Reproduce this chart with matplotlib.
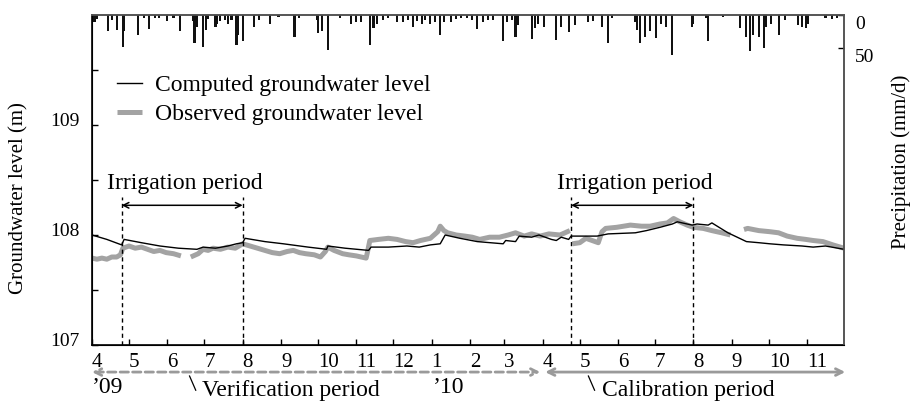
import matplotlib
matplotlib.use('Agg')
import matplotlib.pyplot as plt
import matplotlib.transforms as mtransforms
import matplotlib.dates as mdates
import numpy as np
import pandas as pd

plt.rcParams['font.family'] = ['Liberation Serif', 'DejaVu Serif']

start = pd.Timestamp('2009-04-01')

# computed groundwater level (days since 2009-04-01, m)
comp_days = [0, 12, 24, 26, 40, 55, 70, 85, 90, 100, 110, 117, 122, 124, 140, 155,
             175, 190, 191, 205, 224, 226, 240, 255, 265, 274, 282, 286, 298, 312,
             333, 335, 343, 346, 356, 362, 372, 376, 380, 386, 388, 409, 418, 440,
             449, 460, 470, 474, 486, 490, 499, 502, 515, 530, 540, 549, 560, 575,
             584, 594, 609]
comp_level = [108.00, 107.96, 107.91, 107.96, 107.93, 107.90, 107.88, 107.87, 107.89,
              107.88, 107.90, 107.92, 107.93, 107.97, 107.94, 107.92, 107.89, 107.87,
              107.90, 107.88, 107.86, 107.89, 107.89, 107.90, 107.89, 107.91, 107.92,
              108.00, 107.97, 107.94, 107.92, 107.95, 107.94, 107.99, 107.98, 108.00,
              107.96, 107.95, 107.98, 107.96, 107.99, 107.99, 108.01, 108.02, 108.04,
              108.07, 108.10, 108.12, 108.09, 108.10, 108.09, 108.11, 108.02, 107.94,
              107.93, 107.92, 107.91, 107.90, 107.89, 107.90, 107.87]

# observed groundwater level (nan = missing)
obs_days = [0, 4, 8, 12, 16, 20, 23, 25, 30, 35, 40, 45, 50, 55, 60, 66, 72, 75, 80, 86,
            90, 94, 98, 104, 110, 116, 122, 128, 134, 140, 146, 152, 158, 163, 168, 173,
            180, 185, 189, 191, 196, 203, 208, 214, 222, 223, 225, 232, 240, 247, 254,
            260, 266, 274, 280, 282, 285, 288, 295, 302, 308, 314, 322, 330, 337, 343,
            350, 356, 363, 370, 379, 385, 387, 388, 389, 395, 400, 405, 410, 413, 416,
            425, 436, 445, 452, 460, 466, 471, 476, 482, 487, 495, 502, 510, 517, 520,
            528, 531, 540, 549, 556, 563, 571, 578, 584, 592, 600, 609]
obs_level = [107.79, 107.78, 107.79, 107.78, 107.80, 107.80, 107.82, 107.88, 107.90,
             107.88, 107.89, 107.87, 107.85, 107.86, 107.84, 107.83, 107.81, np.nan,
             107.80, 107.83, 107.87, 107.86, 107.88, 107.87, 107.89, 107.88, 107.92,
             107.90, 107.88, 107.86, 107.84, 107.83, 107.85, 107.86, 107.84, 107.83,
             107.82, 107.80, 107.85, 107.89, 107.86, 107.83, 107.82, 107.81, 107.79,
             107.84, 107.95, 107.96, 107.97, 107.96, 107.94, 107.93, 107.95, 107.97,
             108.03, 108.08, 108.04, 108.02, 108.00, 107.99, 107.98, 107.96, 107.98,
             107.98, 108.00, 108.02, 107.99, 108.01, 107.99, 108.01, 108.00, 108.03,
             108.04, np.nan, 107.92, 107.93, 107.97, 107.95, 107.93, 108.03, 108.06,
             108.07, 108.09, 108.08, 108.08, 108.10, 108.11, 108.15, 108.12, 108.09,
             108.07, 108.06, 108.04, 108.02, 108.00, np.nan, 108.05, 108.06, 108.04,
             108.03, 108.02, 107.99, 107.97, 107.96, 107.95, 107.94, 107.91, 107.88]

# daily precipitation (mm/d)
rain_days = [2, 4, 13, 16, 20, 25, 26, 37, 42, 46, 51, 54, 61, 66, 71, 82, 83, 85, 90,
             92, 94, 100, 101, 104, 108, 110, 113, 117, 118, 122, 131, 135, 144, 151,
             164, 168, 182, 183, 186, 191, 201, 210, 214, 218, 225, 228, 231, 236, 240,
             247, 252, 256, 260, 263, 267, 270, 274, 278, 282, 285, 291, 295, 299, 304,
             308, 312, 317, 321, 325, 333, 336, 340, 343, 345, 356, 359, 361, 366, 376,
             380, 386, 391, 402, 406, 413, 418, 421, 440, 441, 444, 448, 452, 457, 461,
             465, 470, 486, 487, 497, 499, 511, 525, 530, 533, 535, 540, 544, 546, 550,
             556, 561, 572, 575, 578, 580, 594, 599, 603]
rain_mm = [10, 6, 25, 8, 23, 48, 25, 31, 5, 21, 5, 5, 9, 4, 24, 9, 43, 18, 48, 23, 6,
           18, 13, 9, 8, 13, 8, 45, 30, 39, 18, 8, 13, 3, 33, 4, 8, 28, 25, 53, 4, 13,
           10, 10, 45, 20, 14, 8, 4, 10, 10, 8, 18, 9, 14, 8, 13, 10, 31, 10, 10, 6, 5,
           5, 8, 21, 10, 8, 8, 39, 10, 8, 33, 15, 37, 20, 13, 18, 38, 18, 26, 15, 10, 9,
           18, 43, 5, 10, 23, 43, 33, 25, 35, 13, 18, 61, 18, 13, 5, 40, 3, 20, 33, 55,
           30, 33, 50, 18, 13, 30, 8, 15, 18, 20, 13, 5, 6, 5]

month_labels = ['4', '5', '6', '7', '8', '9', '10', '11', '12', '1', '2', '3',
                '4', '5', '6', '7', '8', '9', '10', '11']
irrig_start = ['2009-04-25', '2010-04-24']
irrig_end = ['2009-08-01', '2010-08-01']


def to_dates(days):
    return start + pd.to_timedelta(np.asarray(days, dtype=float), unit='D')


def dn(s):
    return mdates.date2num(pd.Timestamp(s))


fig = plt.figure(figsize=(9.1, 4.04), dpi=100)
ax = fig.add_axes([92 / 910, 59 / 404, 752 / 910, 330 / 404])

obs_line, = ax.plot(to_dates(obs_days), obs_level, color='#a3a3a3', lw=3.6,
                    solid_capstyle='butt', label='Observed groundwater level', zorder=2)
comp_line, = ax.plot(to_dates(comp_days), comp_level, color='black', lw=1.0,
                     label='Computed groundwater level', zorder=3)

ax.set_xlim(start, pd.Timestamp('2010-12-01'))
ax.set_ylim(107, 110)
ax.set_yticks([107, 108, 109])
ax.set_yticks([107.5, 108.5, 109.5], minor=True)
ax.set_xticks(pd.date_range('2009-04-01', '2010-11-01', freq='MS'))
ax.set_xticklabels(month_labels)
for lbl in ax.get_xticklabels():
    lbl.set_ha('left')
ax.tick_params(axis='x', direction='in', length=4.5, width=1, labelsize=15, pad=6)
ax.tick_params(axis='y', which='both', direction='in', length=4.5, width=1,
               labelsize=14, pad=9)
ax.tick_params(axis='y', which='minor', labelleft=False)
off = mtransforms.ScaledTranslation(0, 4 / 72, fig.dpi_scale_trans)
for lbl in ax.get_yticklabels():
    lbl.set_transform(lbl.get_transform() + off)

for side in ['left', 'bottom']:
    ax.spines[side].set_linewidth(1.2)
for side in ['top', 'right']:
    ax.spines[side].set_color('#555555')
    ax.spines[side].set_linewidth(1.2)

# irrigation periods
for s, e in zip(irrig_start, irrig_end):
    s, e = pd.Timestamp(s), pd.Timestamp(e)
    for d in (s, e):
        ax.plot([d, d], [107, 108.35], color='black', lw=1, ls=(0, (3, 2.5)), zorder=4)
    ax.annotate('', xy=(e, 108.27), xytext=(s, 108.27),
                arrowprops=dict(arrowstyle='<->', color='black', lw=1.1,
                                shrinkA=0, shrinkB=0, mutation_scale=10))
    ax.text(s + (e - s) / 2 + pd.Timedelta(days=2), 108.47, 'Irrigation period',
            ha='center', va='center', fontsize=17)

ax.legend(handles=[comp_line, obs_line], frameon=False,
          loc='upper left', bbox_to_anchor=(0.033, 0.82), borderpad=0,
          borderaxespad=0, handlelength=1.05, handletextpad=0.55,
          labelspacing=0.32, fontsize=17)

# precipitation (inverted right axis)
ax2 = ax.twinx()
ax2.bar(to_dates(rain_days), rain_mm, width=1.7, color='#111111', linewidth=0,
        align='center')
ax2.set_ylim(500, 0)
ax2.set_yticks([0, 50])
ax2.tick_params(axis='y', direction='in', length=4.5, width=1, labelsize=14, pad=8)
off2 = mtransforms.ScaledTranslation(0, -5.5 / 72, fig.dpi_scale_trans)
for lbl in ax2.get_yticklabels():
    lbl.set_transform(lbl.get_transform() + off2)
ax2.set_xlim(start, pd.Timestamp('2010-12-01'))
for side in ['top', 'right']:
    ax2.spines[side].set_color('#555555')
    ax2.spines[side].set_linewidth(1.2)

# period arrows below the axis
tr = mtransforms.blended_transform_factory(ax.transData, ax.transAxes)
ax.annotate('', xy=(dn('2010-03-30'), -0.082), xytext=(dn('2009-04-01'), -0.082),
            xycoords=tr, textcoords=tr, annotation_clip=False,
            arrowprops=dict(arrowstyle='<->', color='#9a9a9a', lw=2, ls=(0, (3, 1.5)),
                            shrinkA=0, shrinkB=0, mutation_scale=12))
ax.annotate('', xy=(dn('2010-12-02'), -0.082), xytext=(dn('2010-04-03'), -0.082),
            xycoords=tr, textcoords=tr, annotation_clip=False,
            arrowprops=dict(arrowstyle='<->', color='#9a9a9a', lw=2,
                            shrinkA=0, shrinkB=0, mutation_scale=12))
ax.text(dn('2009-04-01'), -0.13, '\u201909', transform=tr, ha='left', va='center',
        fontsize=17)
ax.text(dn('2010-01-02'), -0.13, '\u201910', transform=tr, ha='left', va='center',
        fontsize=17)
ax.plot([dn('2009-06-19'), dn('2009-06-24')], [-0.094, -0.137],
        transform=tr, color='black', lw=0.9, clip_on=False)
ax.text(dn('2009-06-29'), -0.17, 'Verification period', transform=tr,
        ha='left', va='bottom', fontsize=17)
ax.plot([dn('2010-05-08'), dn('2010-05-13')], [-0.094, -0.137],
        transform=tr, color='black', lw=0.9, clip_on=False)
ax.text(dn('2010-05-19'), -0.17, 'Calibration period', transform=tr,
        ha='left', va='bottom', fontsize=17)

fig.text(19 / 910, 1 - 198 / 404, 'Groundwater level (m)', rotation=90,
         ha='center', va='center', fontsize=15)
fig.text(901 / 910, 1 - 162 / 404, 'Precipitation (mm/d)', rotation=90,
         ha='center', va='center', fontsize=15)

fig.savefig('out.png', dpi=100)
